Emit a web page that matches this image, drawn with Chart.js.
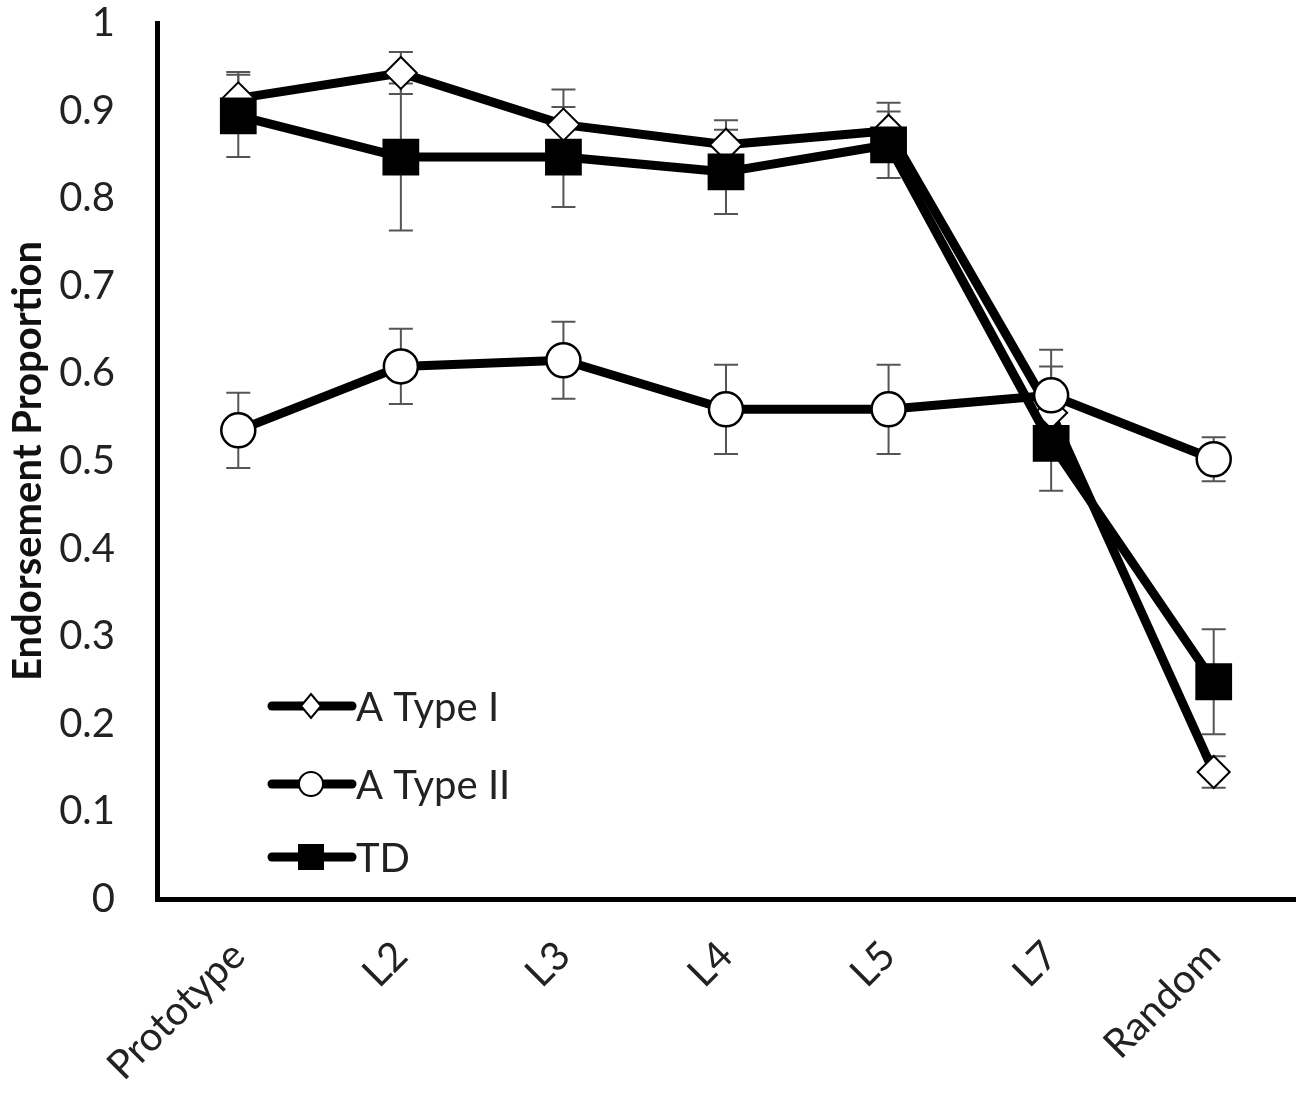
<!DOCTYPE html>
<html>
<head>
<meta charset="utf-8">
<script src="https://cdn.jsdelivr.net/npm/chart.js@4/dist/chart.umd.min.js"></script>
<style>
  html, body { margin: 0; padding: 0; background: #fff; }
  #wrap { width: 1300px; height: 1094px; }
</style>
</head>
<body>
<div id="wrap"><canvas id="chart" width="1300" height="1094"></canvas></div>
<script>
const categories = ['Prototype', 'L2', 'L3', 'L4', 'L5', 'L7', 'Random']

const typeI = [0.914, 0.943, 0.884, 0.861, 0.877, 0.555, 0.145]
const typeIErr = [0.030, 0.024, 0.040, 0.028, 0.032, 0.053, 0.018]

const typeII = [0.535, 0.608, 0.615, 0.559, 0.559, 0.575, 0.502]
const typeIIErr = [0.043, 0.043, 0.044, 0.051, 0.051, 0.052, 0.025]

const td = [0.894, 0.847, 0.847, 0.830, 0.861, 0.520, 0.248]
const tdErr = [0.047, 0.084, 0.057, 0.048, 0.038, 0.054, 0.060]

const seriesNames = ['A Type I', 'A Type II', 'TD']

const FONT = 'Lato, "Open Sans", sans-serif'

// error bars, drawn under the markers
const errorBars = {
  id: 'errorBars',
  beforeDatasetsDraw(chart) {
    const ctx = chart.ctx
    const y = chart.scales.y
    chart.data.datasets.forEach(function(ds, i) {
      const meta = chart.getDatasetMeta(i)
      ctx.save()
      ctx.strokeStyle = '#555'
      ctx.lineWidth = 2
      meta.data.forEach(function(pt, j) {
        const top = y.getPixelForValue(ds.data[j] + ds.errors[j])
        const bot = y.getPixelForValue(ds.data[j] - ds.errors[j])
        ctx.beginPath()
        ctx.moveTo(pt.x, top)
        ctx.lineTo(pt.x, bot)
        ctx.moveTo(pt.x - 12, top)
        ctx.lineTo(pt.x + 12, top)
        ctx.moveTo(pt.x - 12, bot)
        ctx.lineTo(pt.x + 12, bot)
        ctx.stroke()
      })
      ctx.restore()
    })
  }
}

function drawMarker(ctx, style, x, y) {
  ctx.beginPath()
  if (style === 'rectRot') {
    ctx.moveTo(x, y - 12); ctx.lineTo(x + 10, y); ctx.lineTo(x, y + 12); ctx.lineTo(x - 10, y)
    ctx.closePath()
    ctx.fillStyle = '#fff'; ctx.fill()
    ctx.lineWidth = 2; ctx.strokeStyle = '#000'; ctx.stroke()
  } else if (style === 'circle') {
    ctx.arc(x, y, 12, 0, Math.PI * 2)
    ctx.fillStyle = '#fff'; ctx.fill()
    ctx.lineWidth = 2; ctx.strokeStyle = '#000'; ctx.stroke()
  } else {
    ctx.fillStyle = '#000'
    ctx.fillRect(x - 13, y - 13, 26, 26)
  }
}

// legend inside the plot, lower left
const innerLegend = {
  id: 'innerLegend',
  afterDraw(chart) {
    const ctx = chart.ctx
    const left = chart.chartArea.left
    const rows = [706, 784, 857]
    ctx.save()
    chart.data.datasets.forEach(function(ds, i) {
      const ly = rows[i]
      ctx.beginPath()
      ctx.lineCap = 'round'
      ctx.lineWidth = 9
      ctx.strokeStyle = '#000'
      ctx.moveTo(left + 115, ly)
      ctx.lineTo(left + 195, ly)
      ctx.stroke()
      drawMarker(ctx, ds.pointStyle, left + 154, ly)
      ctx.fillStyle = '#222'
      ctx.font = '40px ' + FONT
      ctx.textBaseline = 'middle'
      ctx.textAlign = 'left'
      ctx.fillText(ds.label, left + 199, ly + 2)
    })
    ctx.restore()
  }
}

const ctx = document.getElementById('chart')

new Chart(ctx, {
  type: 'line',
  data: {
    labels: categories,
    datasets: [
      {
        label: seriesNames[0],
        data: typeI,
        errors: typeIErr,
        borderColor: '#000',
        borderWidth: 9,
        borderJoinStyle: 'round',
        borderCapStyle: 'round',
        pointStyle: 'rectRot',
        pointRadius: 16,
        pointBackgroundColor: '#fff',
        pointBorderColor: '#000',
        pointBorderWidth: 2,
        order: 3
      },
      {
        label: seriesNames[1],
        data: typeII,
        errors: typeIIErr,
        borderColor: '#000',
        borderWidth: 9,
        borderJoinStyle: 'round',
        borderCapStyle: 'round',
        pointStyle: 'circle',
        pointRadius: 17,
        pointBackgroundColor: '#fff',
        pointBorderColor: '#000',
        pointBorderWidth: 2.5,
        order: 2
      },
      {
        label: seriesNames[2],
        data: td,
        errors: tdErr,
        borderColor: '#000',
        borderWidth: 9,
        borderJoinStyle: 'round',
        borderCapStyle: 'round',
        pointStyle: 'rect',
        pointRadius: 26,
        pointBackgroundColor: '#000',
        pointBorderColor: '#000',
        pointBorderWidth: 0,
        order: 1
      }
    ]
  },
  options: {
    responsive: false,
    animation: false,
    devicePixelRatio: 1,
    layout: { autoPadding: false, padding: { top: 23, right: 5, left: 0, bottom: 0 } },
    plugins: {
      legend: { display: false },
      tooltip: { enabled: false }
    },
    scales: {
      x: {
        offset: true,
        grid: { display: false, drawTicks: false, offset: true },
        border: { display: true, color: '#000', width: 5 },
        ticks: {
          color: '#222',
          font: { family: FONT, size: 40 },
          minRotation: 45,
          maxRotation: 45,
          autoSkip: false,
          padding: 33
        },
        afterFit(scale) {
          scale.height = 195
          scale.paddingLeft = 0
          scale.paddingRight = 0
          scale.paddingTop = 0
          scale.paddingBottom = 0
        }
      },
      y: {
        min: 0,
        max: 1,
        grid: { display: false, drawTicks: false },
        border: { display: true, color: '#000', width: 5 },
        ticks: {
          stepSize: 0.1,
          color: '#222',
          font: { family: FONT, size: 40 },
          padding: 42,
          callback: function(v) { return +v.toFixed(1) }
        },
        title: {
          display: true,
          text: 'Endorsement Proportion',
          color: '#111',
          font: { family: FONT, size: 40, weight: 'bold' },
          padding: { top: 4, bottom: 0 }
        },
        afterFit(scale) {
          scale.width = 157
          scale.paddingTop = 0
          scale.paddingBottom = 0
          scale.paddingLeft = 0
          scale.paddingRight = 0
        }
      }
    }
  },
  plugins: [errorBars, innerLegend]
})
</script>
</body>
</html>
